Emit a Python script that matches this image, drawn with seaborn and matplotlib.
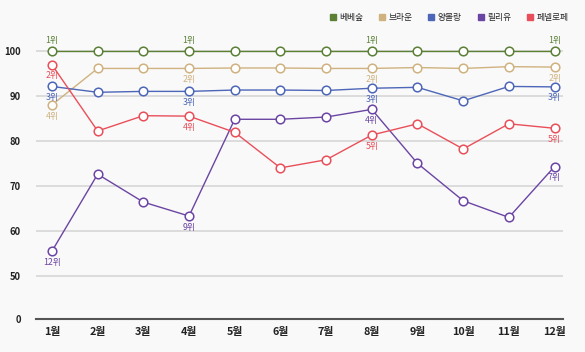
import matplotlib
matplotlib.use("Agg")
import matplotlib.pyplot as plt
from matplotlib.lines import Line2D
import seaborn as sns
import pandas as pd

# 월별 데이터
months = ["1월", "2월", "3월", "4월", "5월", "6월", "7월", "8월", "9월", "10월", "11월", "12월"]
names = ["베베숲", "브라운", "양볼랑", "릴리유", "페넬로페"]
colors = ["#5b8036", "#cfb27f", "#4d66b8", "#6b45a3", "#e94f5a"]

bebesup = [100, 100, 100, 100, 100, 100, 100, 100, 100, 100, 100, 100]
brown = [88.0, 96.1, 96.1, 96.1, 96.2, 96.2, 96.1, 96.1, 96.3, 96.1, 96.5, 96.4]
yangbolang = [92.1, 90.8, 91.0, 91.0, 91.3, 91.3, 91.2, 91.7, 91.9, 88.9, 92.1, 92.0]
lilyu = [55.5, 72.6, 66.4, 63.3, 84.8, 84.8, 85.3, 87.0, 75.0, 66.7, 63.0, 74.3]
penelope = [96.9, 82.2, 85.6, 85.5, 81.9, 74.0, 75.8, 81.3, 83.8, 78.2, 83.8, 82.8]

# 순위 라벨 (1, 4, 8, 12월)
rank_months = ["1월", "4월", "8월", "12월"]
ranks = {
    "베베숲": ["1위", "1위", "1위", "1위"],
    "브라운": ["4위", "2위", "2위", "2위"],
    "양볼랑": ["3위", "3위", "3위", "3위"],
    "릴리유": ["12위", "9위", "4위", "7위"],
    "페넬로페": ["2위", "4위", "5위", "5위"],
}

yticks = [40.44, 50, 60, 70, 80, 90, 100]
ytick_labels = ["0", "50", "60", "70", "80", "90", "100"]

series = dict(zip(names, [bebesup, brown, yangbolang, lilyu, penelope]))
df = pd.DataFrame([
    {"month": m, "name": n, "value": v}
    for n in names for m, v in zip(months, series[n])
])

sns.set_style("white")
plt.rcParams["font.family"] = ["Noto Sans CJK KR", "DejaVu Sans"]

fig = plt.figure(figsize=(5.85, 3.52), dpi=100, facecolor="#f9f9f9")
ax = fig.add_axes([0.0615, 0.094, 0.9005, 0.787])
ax.set_facecolor("#f9f9f9")

for v in yticks[1:]:
    ax.axhline(v, color="#d9d9d9", lw=1.3, zorder=0)

sns.lineplot(data=df, x="month", y="value", hue="name", hue_order=names,
             palette=colors, marker="o", markersize=6.2, markerfacecolor="white",
             markeredgewidth=1.1, linewidth=1.0, ax=ax, legend=False,
             clip_on=False, zorder=3)
for line, c in zip(ax.lines[len(yticks) - 1:], colors):
    line.set_markeredgecolor(c)

# 순위 라벨
for n, c in zip(names, colors):
    for m, r in zip(rank_months, ranks[n]):
        i = months.index(m)
        v = series[n][i]
        off = 7.5 if n == "베베숲" else -8
        ax.annotate(r, (i, v), xytext=(0, off), textcoords="offset points",
                    ha="center", va="center", fontsize=6.3, color=c, zorder=6)

ax.set_ylim(40.44, 102)
ax.set_xlim(-0.35, 11.18)
ax.set_yticks(yticks)
ax.set_yticklabels(ytick_labels)
ax.set_xlabel("")
ax.set_ylabel("")
ax.tick_params(axis="y", length=0, labelsize=6.8, labelcolor="#222222", pad=11)
ax.tick_params(axis="x", length=0, labelsize=7.8, labelcolor="#222222", pad=6)
for lbl in ax.get_xticklabels() + ax.get_yticklabels():
    lbl.set_fontweight("bold")
for s in ["top", "right", "left"]:
    ax.spines[s].set_visible(False)
ax.spines["bottom"].set_color("#555555")
ax.spines["bottom"].set_linewidth(1.5)

handles = [Line2D([], [], marker="s", linestyle="", color=c, markersize=5) for c in colors]
fig.legend(handles, names, loc="upper right", bbox_to_anchor=(0.985, 0.985),
           ncol=5, frameon=False, fontsize=6.3, handletextpad=0.3,
           columnspacing=1.8, handlelength=0.8)

fig.savefig("out.png", dpi=100, facecolor=fig.get_facecolor())
